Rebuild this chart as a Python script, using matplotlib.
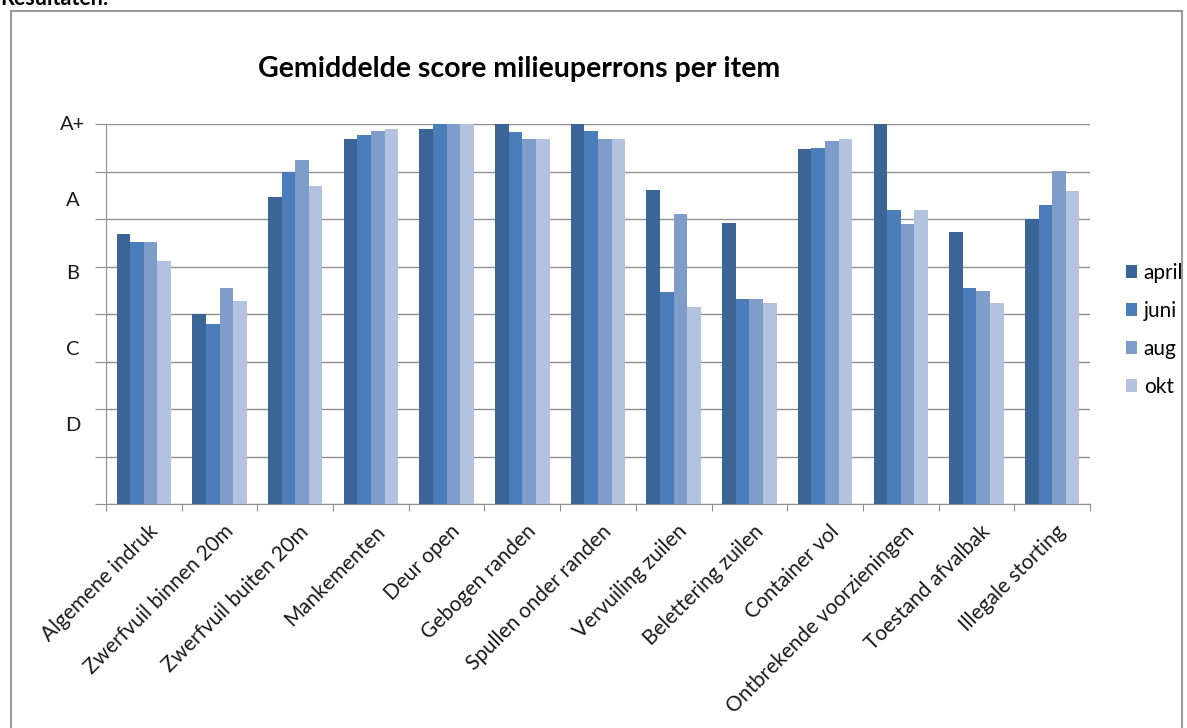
import matplotlib
matplotlib.use("Agg")
import matplotlib.pyplot as plt
import matplotlib.patches as mpatches
import numpy as np

categories = ["Algemene indruk", "Zwerfvuil binnen 20m", "Zwerfvuil buiten 20m",
              "Mankementen", "Deur open", "Gebogen randen", "Spullen onder randen",
              "Vervuiling zuilen", "Belettering zuilen", "Container vol",
              "Ontbrekende voorzieningen", "Toestand afvalbak", "Illegale storting"]
series_names = ["april", "juni", "aug", "okt"]
april = [5.68, 4.01, 6.46, 7.68, 7.90, 8.00, 8.00, 6.62, 5.91, 7.49, 8.00, 5.73, 6.01]
juni  = [5.52, 3.80, 6.99, 7.78, 8.00, 7.84, 7.86, 4.46, 4.32, 7.51, 6.20, 4.55, 6.31]
aug   = [5.52, 4.56, 7.25, 7.85, 8.00, 7.70, 7.70, 6.10, 4.32, 7.64, 5.90, 4.49, 7.01]
okt   = [5.12, 4.28, 6.71, 7.90, 8.00, 7.70, 7.70, 4.16, 4.24, 7.70, 6.20, 4.24, 6.60]
grade_labels = ["A+", "A", "B", "C", "D"]
grade_positions = [8.0, 6.4, 4.85, 3.25, 1.65]

colors = ["#3B6597", "#4A7DBA", "#7F9DCB", "#B3C2DF"]
FONT = "Lato"

W, H = 1187, 728
fig = plt.figure(figsize=(W / 100, H / 100), dpi=100)

# outer frame
frame = mpatches.Rectangle((11 / W, -0.05), (1182 - 11) / W, 1.05 - 11 / H,
                           transform=fig.transFigure, fill=False,
                           edgecolor="#9a9a9a", linewidth=1.5)
fig.patches.append(frame)
fig.text(0.0, 1 - 5 / H, "Resultaten:", fontsize=15.5, fontweight="bold",
         family=FONT, ha="left", va="baseline")

left, right, bottom, top = 106, 1090, 504, 124.3
ax = fig.add_axes([left / W, 1 - bottom / H, (right - left) / W, (bottom - top) / H])

data = [april, juni, aug, okt]
n = len(categories)
x = np.arange(n)
bw = 0.18
for i, (vals, c, name) in enumerate(zip(data, colors, series_names)):
    ax.bar(x + (i - 1.5) * bw, vals, width=bw, color=c, label=name, zorder=3,
           linewidth=0)

ax.set_xlim(-0.5, n - 0.5)
ax.set_ylim(0, 8)
ax.set_yticks(np.arange(0, 9))
ax.set_yticklabels([])
ax.yaxis.grid(True, color="#8f8f8f", linewidth=1.0, zorder=0)
ax.tick_params(axis="y", length=8, color="#8f8f8f", direction="out")
ax.set_xticks(np.arange(-0.5, n, 1.0), minor=False)
ax.set_xticklabels([])
ax.tick_params(axis="x", length=5, color="#8f8f8f", direction="out")
for s in ["top", "right"]:
    ax.spines[s].set_visible(False)
for s in ["left", "bottom"]:
    ax.spines[s].set_color("#8f8f8f")

# category labels
for i, cat in enumerate(categories):
    ax.annotate(cat, xy=(i, 0), xycoords="data", xytext=(2.5, -12.5),
                textcoords="offset points", rotation=45, rotation_mode="anchor",
                ha="right", va="top", fontsize=15, family=FONT, color="#1a1a1a")

# grade labels
for lab, pos in zip(grade_labels, grade_positions):
    ax.text(-0.0335, pos, lab, transform=ax.get_yaxis_transform(), ha="center",
            va="center", fontsize=14.5, family=FONT, color="#1a1a1a")

fig.text(519 / W, 1 - 77 / H, "Gemiddelde score milieuperrons per item",
         ha="center", va="baseline", fontsize=20.5, fontweight="bold", family=FONT)

leg = ax.legend(loc="center left", bbox_to_anchor=(1126 / W, 1 - 330 / H),
                bbox_transform=fig.transFigure, frameon=False,
                prop={"family": FONT, "size": 15}, handlelength=0.55,
                handleheight=0.55, handletextpad=0.3, labelspacing=0.86,
                borderpad=0, borderaxespad=0)

fig.savefig("out.png", dpi=100)
